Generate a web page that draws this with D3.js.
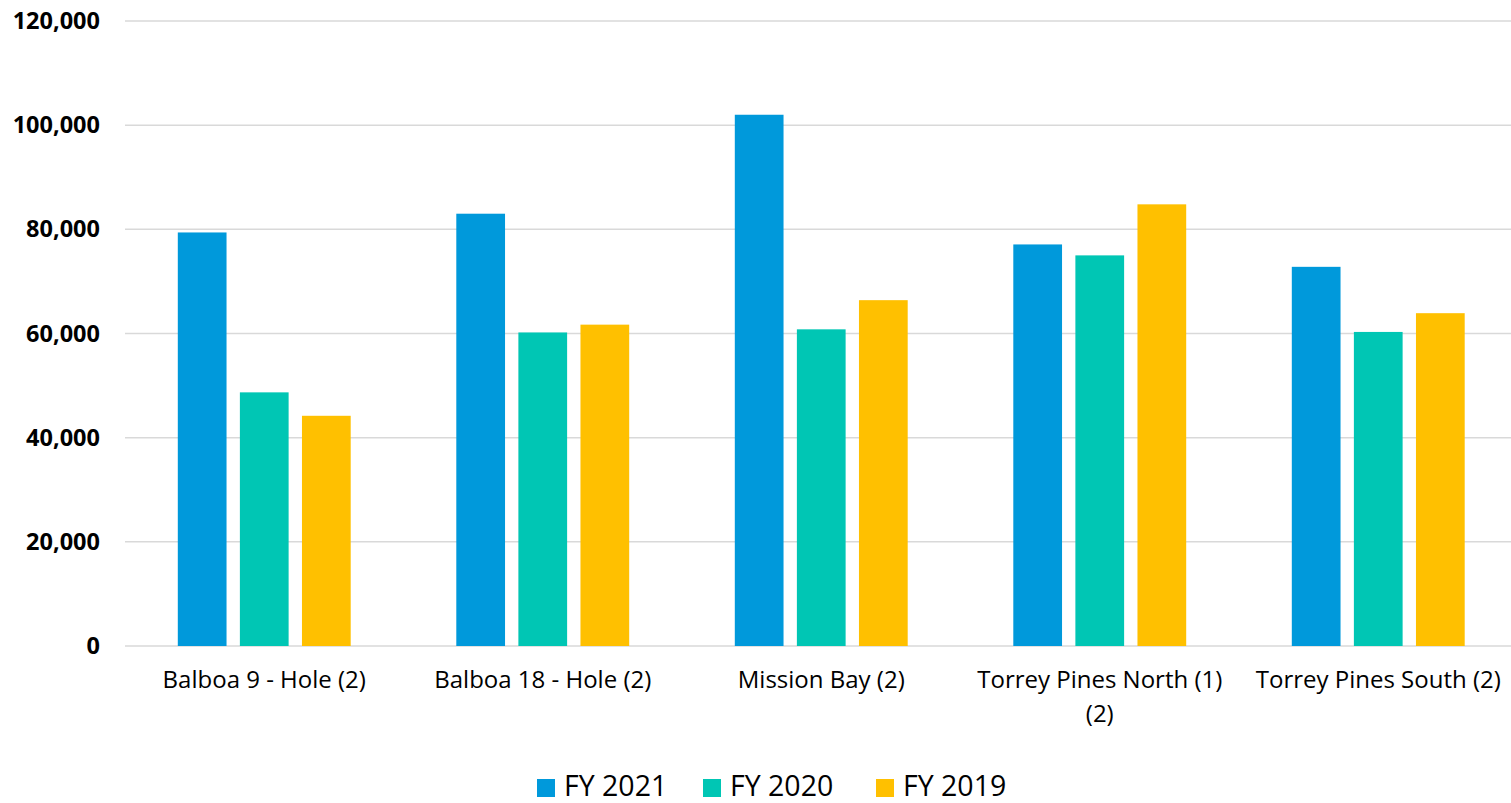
<!DOCTYPE html>
<html lang="en">
<head>
    <meta charset="UTF-8">
    <title>Golf Rounds by Course</title>
    <script src="https://d3js.org/d3.v7.min.js"></script>
    <style>
        body {
            margin: 0;
            background: #fff;
        }
        svg {
            display: block;
        }
        svg text {
            font-family: "Open Sans", sans-serif;
        }
        .y-axis text {
            font-size: 23.5px;
            font-weight: bold;
            fill: #000;
        }
        .x-axis text {
            font-size: 24px;
            fill: #000;
        }
        .legend text {
            font-size: 28.5px;
            fill: #000;
        }
    </style>
</head>
<body>
    <svg id="chart"></svg>

    <script>
        const categories = [
            "Balboa 9 - Hole (2)",
            "Balboa 18 - Hole (2)",
            "Mission Bay (2)",
            "Torrey Pines North (1) (2)",
            "Torrey Pines South (2)"
        ];
        const seriesNames = ["FY 2021", "FY 2020", "FY 2019"];
        const fy2021 = [79400, 83000, 102000, 77100, 72800];
        const fy2020 = [48700, 60200, 60800, 75000, 60300];
        const fy2019 = [44200, 61700, 66400, 84800, 63900];
        const yTicks = [0, 20000, 40000, 60000, 80000, 100000, 120000];
        const colors = ["#0099DB", "#00C6B4", "#FFC000"];

        const series = [fy2021, fy2020, fy2019];
        const width = 1511, height = 803;
        const margin = { top: 21, left: 125, bottom: 646 };

        const svg = d3.select("#chart").attr("width", width).attr("height", height);

        const y = d3.scaleLinear()
            .domain([0, 120000])
            .range([margin.bottom, margin.top]);

        // plot area runs slightly past the right edge, as in the original
        const x0 = d3.scaleBand()
            .domain(categories)
            .range([margin.left, 1517.5])
            .padding(0);

        const x1 = d3.scaleBand()
            .domain(seriesNames)
            .range([52.8, x0.bandwidth() - 52.8])
            .paddingInner(0.215)
            .paddingOuter(0);

        // gridlines
        svg.append("g")
            .selectAll("line")
            .data(yTicks)
            .enter().append("line")
            .attr("x1", margin.left)
            .attr("x2", width)
            .attr("y1", d => y(d))
            .attr("y2", d => y(d))
            .attr("stroke", "#d9d9d9")
            .attr("stroke-width", 1.5);

        // y axis labels
        const yAxis = svg.append("g")
            .attr("class", "y-axis")
            .attr("transform", `translate(100,0)`)
            .call(d3.axisLeft(y).tickValues(yTicks).tickSize(0).tickPadding(0)
                .tickFormat(d3.format(",")));
        yAxis.select(".domain").remove();

        // bars
        const groups = svg.append("g")
            .selectAll("g")
            .data(categories)
            .enter().append("g")
            .attr("transform", d => `translate(${x0(d)},0)`);

        groups.selectAll("rect")
            .data((d, i) => seriesNames.map((s, j) => ({ s, v: series[j][i], c: colors[j] })))
            .enter().append("rect")
            .attr("x", d => x1(d.s))
            .attr("y", d => y(d.v))
            .attr("width", x1.bandwidth())
            .attr("height", d => y(0) - y(d.v))
            .attr("fill", d => d.c);

        // x axis labels
        const xAxis = svg.append("g")
            .attr("class", "x-axis")
            .attr("transform", `translate(0,${margin.bottom})`)
            .call(d3.axisBottom(x0).tickSize(0).tickPadding(0));
        xAxis.select(".domain").remove();
        xAxis.selectAll("text")
            .attr("y", 42)
            .attr("dy", null)
            .each(function() { wrap(d3.select(this), 258); });

        function wrap(text, maxWidth) {
            const words = text.text().split(" ");
            text.text(null);
            let line = [];
            let lineNo = 0;
            let tspan = text.append("tspan").attr("x", 0).attr("y", 42);
            words.forEach(w => {
                line.push(w);
                tspan.text(line.join(" "));
                if (tspan.node().getComputedTextLength() > maxWidth && line.length > 1) {
                    line.pop();
                    tspan.text(line.join(" "));
                    line = [w];
                    lineNo++;
                    tspan = text.append("tspan").attr("x", 0).attr("y", 42 + lineNo * 34).text(w);
                }
            });
        }

        // legend
        const legend = svg.append("g").attr("class", "legend");
        const legendX = [537, 703, 876];
        seriesNames.forEach((s, i) => {
            legend.append("rect")
                .attr("x", legendX[i])
                .attr("y", 779)
                .attr("width", 18)
                .attr("height", 18)
                .attr("fill", colors[i]);
            legend.append("text")
                .attr("x", legendX[i] + 27)
                .attr("y", 796)
                .text(s);
        });
    </script>
</body>
</html>
